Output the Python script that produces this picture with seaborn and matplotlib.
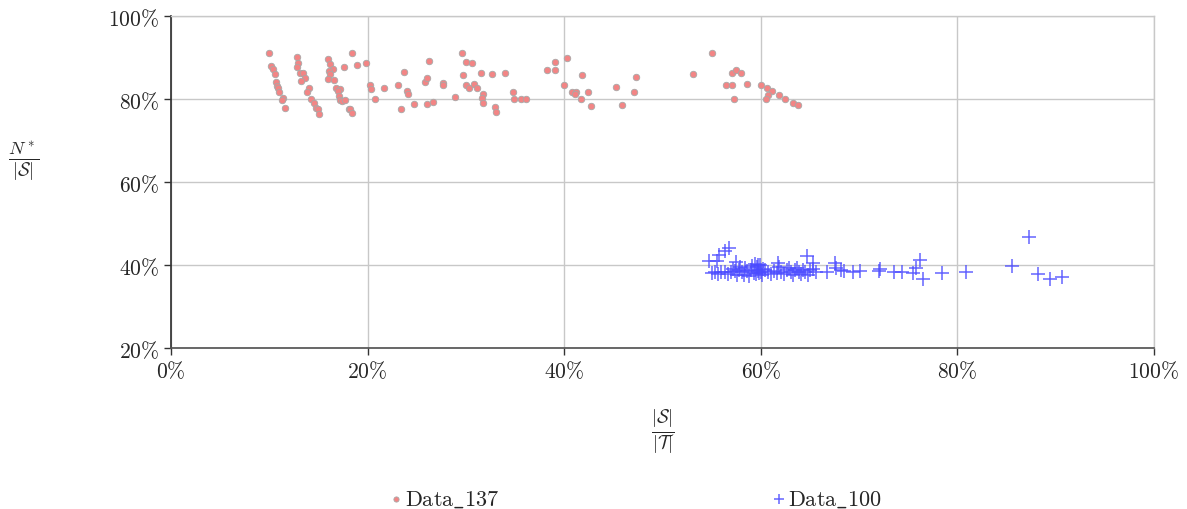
import numpy as np
import pandas as pd
import matplotlib
matplotlib.use("Agg")
import matplotlib.pyplot as plt
import seaborn as sns
from matplotlib.ticker import FuncFormatter

# Data_137 (x = |S|/|T| in %, y = N*/|S| in %)
red_x = [10.0, 10.17, 10.35, 10.58, 10.68, 10.81, 10.92, 11.02, 11.36, 11.26, 11.6,
         12.82, 12.95, 12.82, 13.12, 13.4, 13.63, 13.26, 14.04, 13.84, 14.27, 14.52,
         14.75, 14.92, 15.09, 16.0, 16.2, 16.51, 16.1, 16.2, 15.94, 16.55, 16.79,
         17.19, 16.99, 17.09, 17.22, 17.4, 17.7, 18.08, 18.24, 18.44, 18.41, 17.6,
         18.89, 19.81, 20.21, 20.35, 20.78, 21.7, 23.09, 23.67, 23.98, 24.14, 23.4,
         24.69, 25.81, 26.07, 26.22, 26.07, 26.62, 29.6, 30.01, 30.59, 29.7, 27.64,
         27.64, 28.89, 30.01, 30.28, 30.79, 31.13, 31.5, 31.71, 31.61, 31.71, 32.62,
         32.93, 33.03, 34.01, 34.82, 34.92, 35.61, 36.11, 38.28, 39.03, 39.09, 40.28,
         39.98, 40.79, 41.17, 41.1, 41.78, 42.42, 41.71, 42.76, 45.24, 45.88, 47.1,
         47.3, 55.0, 53.1, 57.1, 57.51, 57.99, 56.49, 57.1, 58.6, 57.3, 59.99, 60.6,
         61.11, 60.73, 60.5, 61.82, 62.49, 63.3, 63.81]
red_y = [91.0, 88.0, 87.2, 86.1, 84.2, 83.1, 82.6, 81.7, 80.2, 79.7, 77.8,
         90.0, 88.7, 87.8, 86.3, 86.2, 85.1, 84.4, 82.7, 81.7, 79.9, 79.0,
         77.9, 77.7, 76.5, 89.7, 88.5, 87.2, 86.8, 86.0, 84.8, 84.5, 82.6,
         82.4, 81.9, 80.8, 79.8, 79.5, 79.7, 77.6, 77.5, 76.7, 91.0, 87.7,
         88.3, 88.6, 83.4, 82.5, 80.1, 82.7, 83.4, 86.5, 81.9, 81.2, 77.5,
         78.8, 84.0, 85.1, 89.1, 78.8, 79.3, 91.0, 88.9, 88.7, 85.8, 83.8,
         83.4, 80.5, 83.4, 82.7, 83.5, 82.6, 86.2, 81.2, 80.2, 79.0, 86.0,
         78.1, 76.9, 86.3, 81.7, 80.1, 80.1, 80.1, 87.1, 87.1, 89.0, 89.8,
         83.4, 81.7, 81.7, 81.2, 85.7, 81.7, 80.1, 78.3, 82.9, 78.5, 81.7,
         85.4, 91.0, 86.1, 86.3, 87.1, 86.3, 83.4, 83.4, 83.7, 80.1, 83.4, 82.6,
         82.0, 80.9, 80.1, 81.0, 80.1, 79.0, 78.5]

# Data_100
blue_x = [54.7, 55.5, 55.7, 56.4, 56.8, 57.5, 59.7, 61.8, 64.7, 65.3, 67.5, 66.7,
          67.7, 68.2, 68.5, 69.4, 70.1, 72.0, 72.1, 73.6, 74.4, 75.5, 75.8, 76.2,
          76.5, 78.4, 80.9, 85.6, 87.3, 88.2, 89.4, 90.6,
          55.0, 55.3, 55.6, 56.0, 56.4, 56.7, 57.0, 57.2, 57.4, 57.6, 57.8, 57.9,
          58.1, 58.3, 58.4, 58.6, 58.8, 59.0, 59.1, 59.3, 59.4, 59.5, 59.6, 59.7,
          59.8, 59.9, 60.0, 60.1, 60.2, 60.4, 60.7, 61.0, 61.3, 61.6, 61.9, 62.1,
          62.4, 62.7, 62.9, 63.1, 63.3, 63.5, 63.7, 63.9, 64.1, 64.3, 64.5, 64.8,
          65.0, 65.3, 65.6]
blue_y = [40.9, 40.9, 42.5, 43.3, 44.1, 40.7, 40.1, 40.5, 42.2, 40.6, 40.5, 38.2,
          39.3, 38.9, 38.6, 38.2, 38.6, 38.6, 39.0, 38.2, 38.2, 38.0, 39.2, 41.3,
          36.6, 38.0, 38.2, 39.8, 46.8, 37.8, 36.6, 37.2,
          38.1, 38.3, 37.9, 38.2, 38.4, 37.8, 38.3, 39.0, 38.6, 37.7, 38.9, 39.6,
          38.2, 37.6, 39.3, 38.5, 37.3, 38.8, 39.8, 38.1, 40.2, 37.9, 39.4, 38.6,
          38.0, 39.9, 38.4, 37.6, 39.1, 38.8, 38.3, 37.9, 38.6, 38.1, 39.4, 38.3,
          37.8, 38.9, 39.3, 38.2, 37.7, 38.7, 39.2, 38.3, 37.8, 38.9, 38.4, 37.6,
          38.8, 39.1, 38.2]

df_red = pd.DataFrame({"x": red_x, "y": red_y})
df_blue = pd.DataFrame({"x": blue_x, "y": blue_y})

sns.set_theme(style="white")
plt.rcParams["font.family"] = "serif"
plt.rcParams["font.serif"] = ["cmr10", "DejaVu Serif"]
plt.rcParams["mathtext.fontset"] = "cm"
plt.rcParams["axes.formatter.use_mathtext"] = True

fig = plt.figure(figsize=(11.87, 5.10), dpi=100)
ax = fig.add_axes([171 / 1187, 1 - 349 / 510, (1154 - 171) / 1187, (349 - 17) / 510])

sns.scatterplot(data=df_red, x="x", y="y", ax=ax, color="#f28585", marker="o",
                s=22, edgecolor="#a8a8a8", linewidth=0.6, label=r"$\mathrm{Data\_137}$",
                zorder=3)
sns.scatterplot(data=df_blue, x="x", y="y", ax=ax, color="#4a4aff", marker="+",
                s=90, linewidth=1.1, alpha=0.85, label=r"$\mathrm{Data\_100}$", zorder=3)

ax.set_xlim(0, 100)
ax.set_ylim(20, 100)
ax.set_xticks(np.arange(0, 101, 20))
ax.set_yticks(np.arange(20, 101, 20))
pct = FuncFormatter(lambda v, p: r"$%d\%%$" % v)
ax.xaxis.set_major_formatter(pct)
ax.yaxis.set_major_formatter(pct)
ax.tick_params(axis="both", labelsize=15.5, length=5, width=1, color="#333333",
               direction="out", bottom=True, left=True)
ax.grid(True, color="#c8c8c8", linewidth=1)
for side in ["top", "right"]:
    ax.spines[side].set_color("#c8c8c8")
    ax.spines[side].set_linewidth(1)
ax.spines["left"].set_color("#333333")
ax.spines["bottom"].set_color("#555555")

ax.set_xlabel(r"$\frac{|\mathcal{S}|}{|\mathcal{T}|}$", fontsize=19, labelpad=18)
ax.set_ylabel(r"$\frac{N^*}{|\mathcal{S}|}$", fontsize=19, rotation=0, labelpad=0)
ax.yaxis.set_label_coords(-0.15, 0.5)

ax.legend_.remove()
h, l = ax.get_legend_handles_labels()
fig.legend(h, l, loc="center", bbox_to_anchor=(0.529, 0.02), ncol=2, frameon=False,
           fontsize=16, handletextpad=-0.6, columnspacing=11.6, markerscale=0.8)

fig.savefig("out.png", dpi=100)
